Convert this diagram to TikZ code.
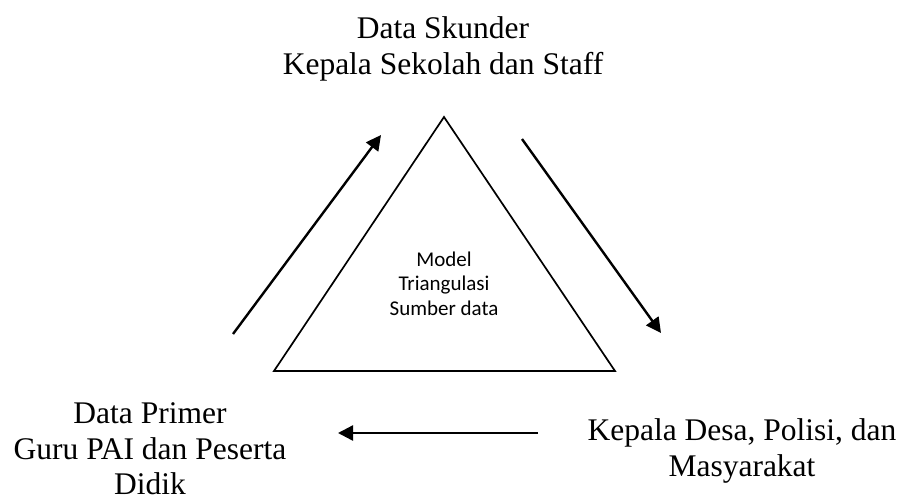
\documentclass[tikz,border=0pt]{standalone}
\usepackage{fontspec}
\setmainfont{Liberation Serif}
\newfontfamily\calibfont{Carlito}
\usetikzlibrary{arrows.meta}
\begin{document}
\begin{tikzpicture}[x=0.5pt,y=-0.5pt,
  lbl/.style={font=\fontsize{15.75}{18}\selectfont, inner sep=0, anchor=base},
  mlbl/.style={font=\calibfont\fontsize{10.5}{12.25}\selectfont, inner sep=0, anchor=base},
  tri/.style={draw, line width=0.85pt, line join=miter},
  flow/.style={draw, line width=1.2pt, -{Triangle[length=7.5pt,width=7.5pt]}}]
\path[use as bounding box] (0,0) rectangle (902,500);
% triangle
\coordinate (apex) at (444,117);
\coordinate (bl) at (274,371);
\coordinate (br) at (615,371);
\draw[tri] (apex) -- (bl) -- (br) -- cycle;
% centre text
\node[mlbl] (m1) at (444,266) {Model};
\node[mlbl] (m2) at (444,290) {Triangulasi};
\node[mlbl] (m3) at (444,315) {Sumber data};
% top labels
\node[lbl] (t1) at (443,38) {Data Skunder};
\node[lbl] (t2) at (443,74) {Kepala Sekolah dan Staff};
% lower left labels
\node[lbl] (l1) at (150,423) {Data Primer};
\node[lbl] (l2) at (150,459) {Guru PAI dan Peserta};
\node[lbl] (l3) at (150,494) {Didik};
% lower right labels
\node[lbl] (r1) at (742,440) {Kepala Desa, Polisi, dan};
\node[lbl] (r2) at (742,476) {Masyarakat};
% arrows
\coordinate (a1s) at (233,334);
\coordinate (a1e) at (381,135);
\coordinate (a2s) at (522,139);
\coordinate (a2e) at (661,333);
\coordinate (a3s) at (538,433);
\coordinate (a3e) at (338,433);
\draw[flow] (a1s) -- (a1e);
\draw[flow] (a2s) -- (a2e);
\draw[flow] (a3s) -- (a3e);
\end{tikzpicture}
\end{document}
